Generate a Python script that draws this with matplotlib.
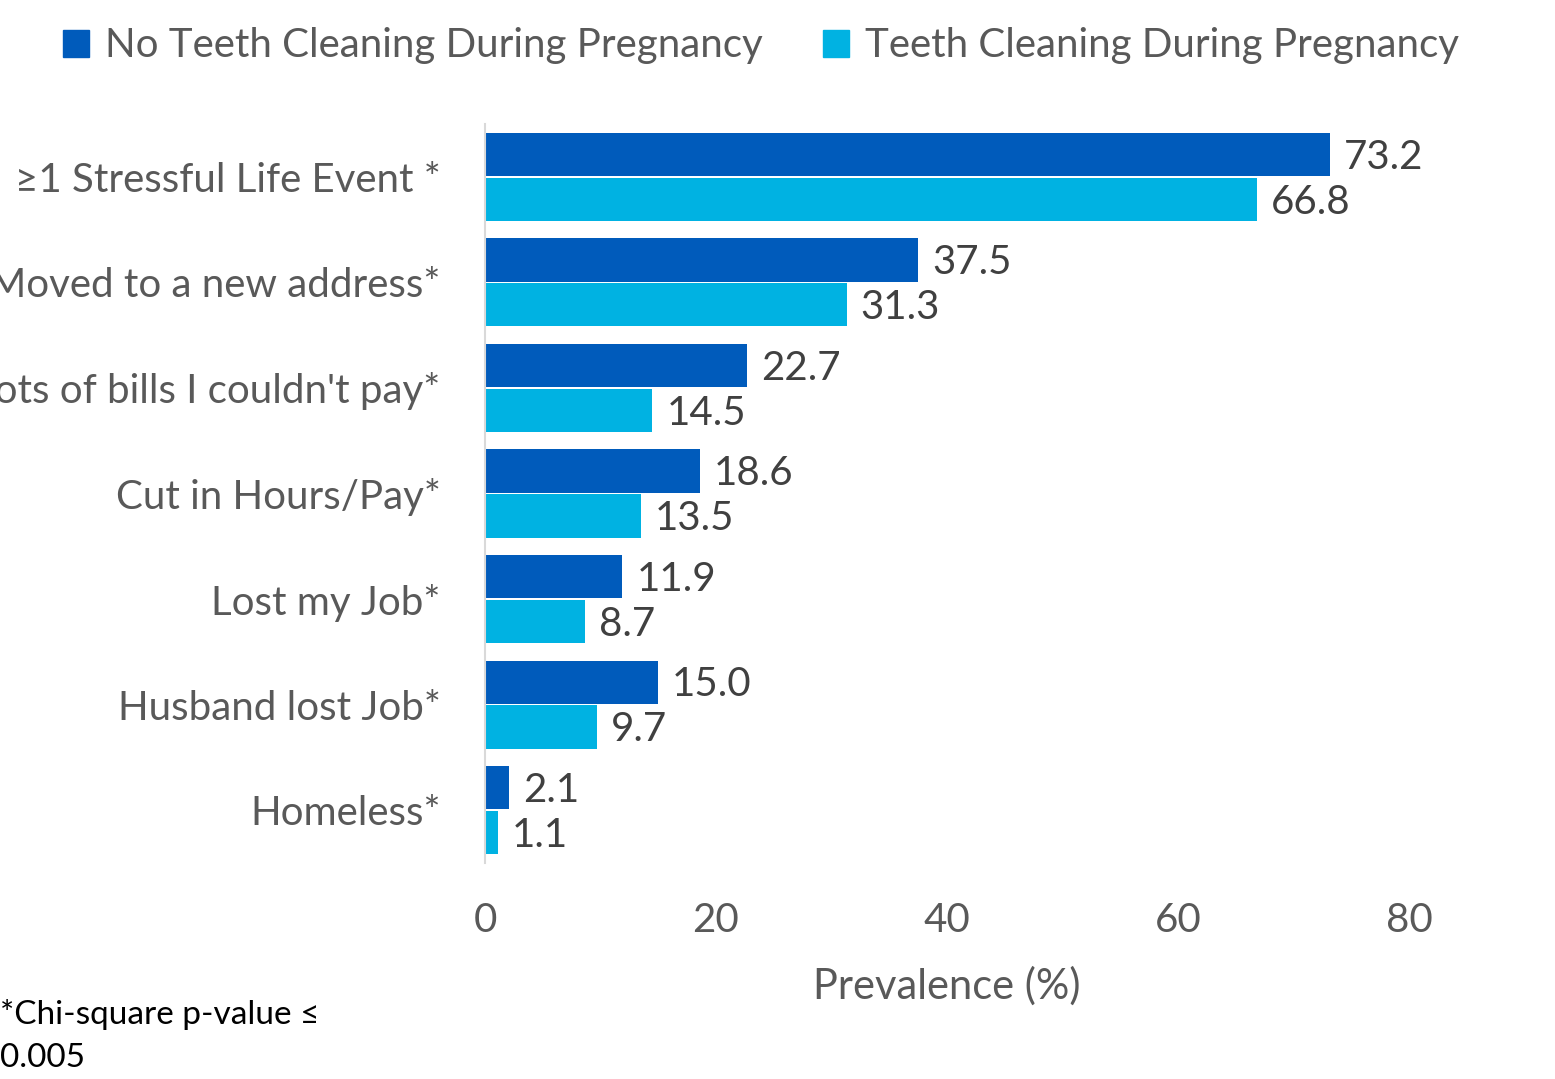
import matplotlib
matplotlib.use('Agg')
import matplotlib.pyplot as plt
from matplotlib.patches import Patch
import numpy as np

# DATA #################################################################################################################

categories = ['\u22651 Stressful Life Event *', 'Moved to a new address*', "Lots of bills I couldn't pay*",
              'Cut in Hours/Pay*', 'Lost my Job*', 'Husband lost Job*', 'Homeless*']
no_cleaning = [73.2, 37.5, 22.7, 18.6, 11.9, 15.0, 2.1]
cleaning = [66.8, 31.3, 14.5, 13.5, 8.7, 9.7, 1.1]
series_names = ['No Teeth Cleaning During Pregnancy', 'Teeth Cleaning During Pregnancy']
x_ticks = [0, 20, 40, 60, 80]

########################################################################################################################

DARK = '#005bbb'
LIGHT = '#00b2e2'
TICK_GREY = '#595959'
LABEL_GREY = '#404040'
FS = 29

plt.rcParams['font.family'] = ['Lato', 'DejaVu Sans']

fig = plt.figure(figsize=(15.55, 10.79), dpi=100)
ax = fig.add_axes([485 / 1555, 1 - 863 / 1079, (1409 - 485) / 1555, (863 - 124) / 1079])

y = np.arange(len(categories))
h = 0.41
off = 0.213

ax.barh(y - off, no_cleaning, height=h, color=DARK)
ax.barh(y + off, cleaning, height=h, color=LIGHT)

# value labels just right of each bar
for yi, v in zip(y, no_cleaning):
    ax.annotate(f'{v:.1f}', (v, yi - off), xytext=(10, -2), textcoords='offset points',
                va='center', ha='left', fontsize=FS, color=LABEL_GREY)
for yi, v in zip(y, cleaning):
    ax.annotate(f'{v:.1f}', (v, yi + off), xytext=(10, -2), textcoords='offset points',
                va='center', ha='left', fontsize=FS, color=LABEL_GREY)

ax.set_xlim(0, 80)
ax.set_ylim(len(categories) - 0.5, -0.5)
ax.set_yticks(y)
ax.set_yticklabels(categories)
ax.set_xticks(x_ticks)
ax.tick_params(axis='y', length=0, pad=32, labelsize=FS, labelcolor=TICK_GREY)
ax.tick_params(axis='x', length=0, pad=28, labelsize=FS, labelcolor=TICK_GREY)
ax.set_xlabel('Prevalence (%)', fontsize=30, color=TICK_GREY, labelpad=20)

for side in ['top', 'right', 'bottom']:
    ax.spines[side].set_visible(False)
ax.spines['left'].set_color('#d9d9d9')
ax.spines['left'].set_linewidth(1.5)

handles = [Patch(color=DARK), Patch(color=LIGHT)]
fig.legend(handles, series_names, loc='center', bbox_to_anchor=(761 / 1555, 1 - 46 / 1079), ncol=2,
           frameon=False, fontsize=FS, labelcolor=TICK_GREY, handlelength=0.65, handleheight=0.65,
           handletextpad=0.4, columnspacing=1.5)

fig.text(0, 1 - 1014 / 1079, '*Chi-square p-value \u2264', fontsize=24, color='black', va='center', ha='left')
fig.text(0, 1 - 1058 / 1079, '0.005', fontsize=24, color='black', va='center', ha='left')

fig.savefig('out.png', dpi=100)
